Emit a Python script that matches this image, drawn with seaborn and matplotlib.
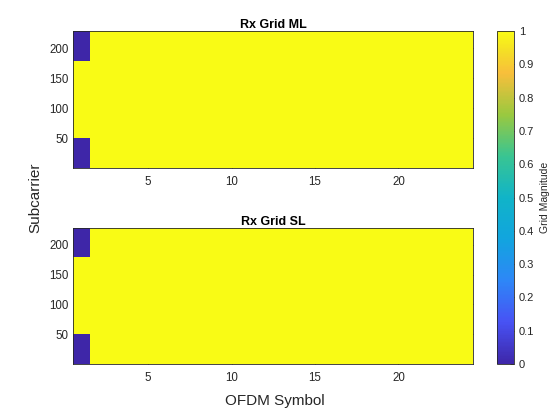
import numpy as np
import matplotlib
matplotlib.use("Agg")
import matplotlib.pyplot as plt
import seaborn as sns
from matplotlib.colors import LinearSegmentedColormap

# grid size and where the grid is empty (value 0)
n_subcarriers = 228
n_symbols = 24
zero_symbols = [1]
zero_subcarriers_low = (1, 50)
zero_subcarriers_high = (179, 228)
grid_titles = ["Rx Grid ML", "Rx Grid SL"]
x_ticks = [5, 10, 15, 20]
y_ticks = [50, 100, 150, 200]
cbar_ticks = [0, 0.1, 0.2, 0.3, 0.4, 0.5, 0.6, 0.7, 0.8, 0.9, 1]

# parula-like colormap
parula_pts = [
    (0.00, (0.2422, 0.1504, 0.6603)),
    (0.125, (0.2810, 0.3228, 0.9579)),
    (0.25, (0.1786, 0.5289, 0.9682)),
    (0.375, (0.0689, 0.6450, 0.8720)),
    (0.50, (0.0641, 0.7048, 0.7836)),
    (0.625, (0.2237, 0.7711, 0.5711)),
    (0.75, (0.6029, 0.7870, 0.2470)),
    (0.875, (0.9718, 0.7480, 0.2307)),
    (0.94, (0.9600, 0.8700, 0.1500)),
    (1.00, (0.9769, 0.9839, 0.0805)),
]
parula = LinearSegmentedColormap.from_list("parula", parula_pts)


def build_grid():
    g = np.ones((n_subcarriers, n_symbols))
    for s in zero_symbols:
        lo, hi = zero_subcarriers_low
        g[lo - 1:hi, s - 1] = 0
        lo, hi = zero_subcarriers_high
        g[lo - 1:hi, s - 1] = 0
    return g


grids = [build_grid(), build_grid()]

sns.set_theme(style="white")
plt.rcParams['font.family'] = ['Liberation Sans', 'DejaVu Sans']
txt = (0.15, 0.15, 0.15)

fig = plt.figure(figsize=(5.6, 4.2), dpi=100)
ax_top = fig.add_axes([0.1304, 0.600, 0.7151, 0.3262])
ax_bot = fig.add_axes([0.1304, 0.1333, 0.7151, 0.3250])
cax = fig.add_axes([0.8875, 0.1333, 0.0304, 0.7929])

for i, (ax, g, title) in enumerate(zip([ax_top, ax_bot], grids, grid_titles)):
    sns.heatmap(g, ax=ax, cmap=parula, vmin=0, vmax=1,
                cbar=(i == 0), cbar_ax=cax if i == 0 else None,
                xticklabels=False, yticklabels=False)
    ax.set_ylim(0, n_subcarriers)
    ax.set_xlim(0, n_symbols)
    ax.set_xticks([t - 0.5 for t in x_ticks])
    ax.set_xticklabels([str(t) for t in x_ticks])
    ax.set_yticks([t - 0.5 for t in y_ticks])
    ax.set_yticklabels([str(t) for t in y_ticks])
    ax.tick_params(direction="in", length=3, width=0.5, colors=txt,
                   labelsize=8.3, top=True, right=True, bottom=True, left=True,
                   labelcolor=txt, pad=3)
    ax.tick_params(axis="x", pad=6)
    for sp in ax.spines.values():
        sp.set_visible(True)
        sp.set_linewidth(0.6)
        sp.set_color(txt)
    ax.set_title(title, fontsize=9, fontweight="bold", color="black", pad=2)

cbar = ax_top.collections[0].colorbar
cbar.set_ticks(cbar_ticks)
cbar.set_ticklabels([f"{t:g}" for t in cbar_ticks])
cbar.ax.tick_params(direction="in", length=3, width=0.5, labelsize=8,
                    colors=txt, labelcolor=txt)
cbar.outline.set_linewidth(0.6)
cbar.outline.set_edgecolor(txt)
cbar.set_label("Grid Magnitude", fontsize=7.5, color=txt, labelpad=4)

fig.text(0.064, 0.528, "Subcarrier", rotation=90, ha="center", va="center",
         fontsize=11, color=txt)
fig.text(0.49, 0.045, "OFDM Symbol", ha="center", va="center",
         fontsize=11, color=txt)

fig.savefig("out.png", dpi=100)
